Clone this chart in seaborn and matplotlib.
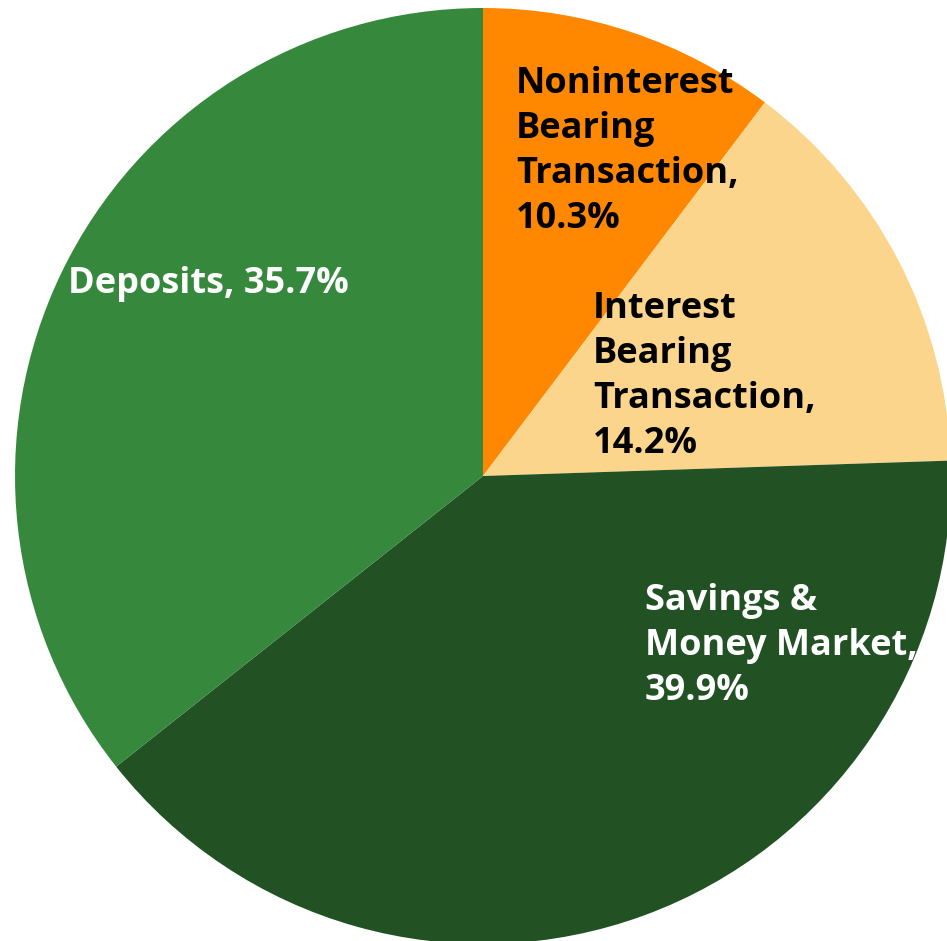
import matplotlib
matplotlib.use('Agg')
import matplotlib.pyplot as plt
import seaborn as sns

# data
categories = ['Noninterest\nBearing\nTransaction', 'Interest\nBearing\nTransaction',
              'Savings &\nMoney Market', 'Deposits']
shares = [10.3, 14.2, 39.9, 35.7]
text_colors = ['black', 'black', 'white', 'white']

colors = ['#FF8800', '#FCD58C', '#225124', '#36893C']
# label anchor (left, last baseline) in pie units
label_pos = [(0.070, 0.530), (0.235, 0.049), (0.346, -0.479), (-0.887, 0.391)]

sns.set_style('white')
plt.rcParams['font.family'] = ['Open Sans', 'DejaVu Sans']

fig = plt.figure(figsize=(9.47, 9.41), dpi=100)
ax = fig.add_axes([15 / 947, -3 / 941, 936 / 947, 936 / 941])
ax.pie(shares, colors=colors, startangle=90, counterclock=False,
       radius=1, wedgeprops=dict(linewidth=0))
ax.set_xlim(-1, 1)
ax.set_ylim(-1, 1)
ax.set_aspect('auto')
ax.axis('off')

for cat, val, tc, (x, y) in zip(categories, shares, text_colors, label_pos):
    if cat == 'Deposits':
        lbl = f'{cat}, {val:.1f}%'
    else:
        lbl = f'{cat},\n{val:.1f}%'
    ax.text(x, y, lbl, ha='left', va='baseline', fontsize=26,
            fontweight='bold', color=tc, linespacing=1.33)

fig.savefig('out.png', dpi=100)
